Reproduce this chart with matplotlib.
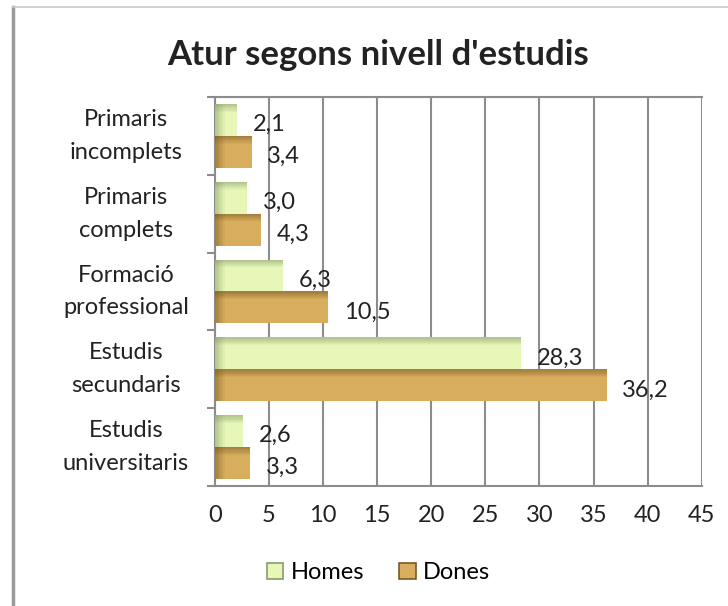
import numpy as np
import matplotlib.pyplot as plt
from matplotlib.patches import Rectangle
from matplotlib.lines import Line2D

plt.rcParams.update({'font.family': ['Lato', 'DejaVu Sans']})

categories = ['Primaris\nincomplets', 'Primaris\ncomplets', 'Formació\nprofessional',
              'Estudis\nsecundaris', 'Estudis\nuniversitaris']
homes = [2.1, 3.0, 6.3, 28.3, 2.6]
dones = [3.4, 4.3, 10.5, 36.2, 3.3]
series = ['Homes', 'Dones']
colors = ['#e6f7b8', '#d8ad5d']
edge_dark = ['#8a9a6a', '#7a5a20']

fig = plt.figure(figsize=(7.28, 6.06), dpi=100, facecolor='w')

# outer chart frame
fig.add_artist(Line2D([0.018, 0.018], [0.0, 0.988], color='#9a9a9a', lw=2.5, transform=fig.transFigure))
fig.add_artist(Line2D([0.018, 1.0], [0.988, 0.988], color='#c8c8c8', lw=1.2, transform=fig.transFigure))

ax = fig.add_axes([0.295, 0.198, 0.669, 0.642])

y = np.arange(len(categories))
h = 0.41
for i, (vals, c, ec) in enumerate(zip([homes, dones], colors, edge_dark)):
    pos = y - h / 2 if i == 0 else y + h / 2
    ax.barh(pos, vals, height=h, color=c, edgecolor='none', zorder=3, label=series[i])
    # darker shading at left and top edges to mimic the bevel
    for p, v in zip(pos, vals):
        for k in range(7):
            a = 0.55 * (1 - k / 7)
            ax.add_patch(Rectangle((0, p - h / 2 + k * h * 0.035), v, h * 0.035,
                                   color=ec, alpha=a, lw=0, zorder=4))
            ax.add_patch(Rectangle((k * 0.13, p - h / 2), 0.13, h,
                                   color=ec, alpha=a, lw=0, zorder=4))
    for p, v in zip(pos, vals):
        ax.text(v + 1.45, p + 0.06, f'{v:.1f}'.replace('.', ','), va='center', ha='left',
                fontsize=17, color='#222222', zorder=5)

ax.set_xlim(0, 45)
ax.set_ylim(len(categories) - 0.5, -0.5)
ax.set_xticks(np.arange(0, 46, 5))
ax.tick_params(axis='x', length=0, labelsize=17, pad=14, colors='#222222')
ax.set_yticks(y)
ax.set_yticklabels(categories, fontsize=17, ha='center', va='center', linespacing=1.7, color='#222222')
ax.tick_params(axis='y', length=0, pad=64)
ax.set_yticks(np.arange(-0.5, len(categories), 1), minor=True)
ax.tick_params(axis='y', which='minor', length=6, color='#8c8c8c', width=1.5)
ax.grid(axis='x', color='#8c8c8c', lw=1.5, zorder=1)
for s in ['left', 'bottom', 'top']:
    ax.spines[s].set_color('#8c8c8c')
    ax.spines[s].set_linewidth(1.5)
ax.spines['right'].set_visible(False)

fig.text(0.52, 0.91, "Atur segons nivell d'estudis", fontsize=25, fontweight='bold',
         color='#222222', ha='center', va='center')

handles = [Rectangle((0, 0), 1, 1, facecolor=c, edgecolor=ec, lw=1.2) for c, ec in zip(colors, edge_dark)]
fig.legend(handles, series, loc='center', bbox_to_anchor=(0.52, 0.055), ncol=2, frameon=False,
           fontsize=17, handlelength=0.7, handleheight=0.7, handletextpad=0.3, columnspacing=1.5)

fig.savefig('out.png', dpi=100, facecolor='w')
